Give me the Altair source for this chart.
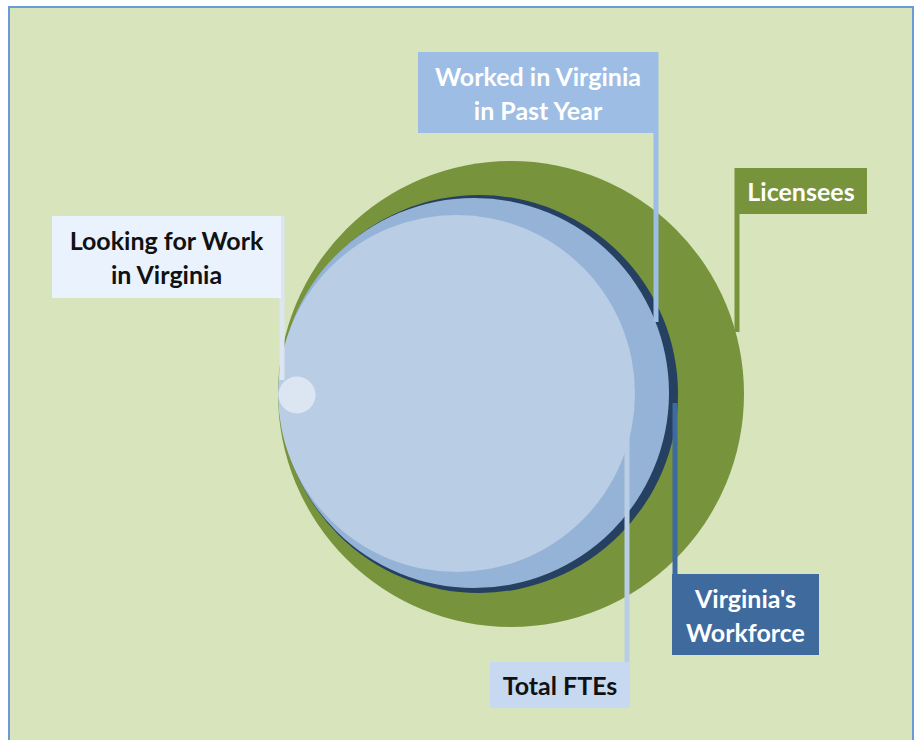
import altair as alt
import pandas as pd

W, H = 916, 740

# Nested circles (pixel-space layout of the diagram)
circle_names = ["Licensees", "Virginia's Workforce", "Worked in Virginia in Past Year", "Total FTEs", "Looking for Work in Virginia"]
circle_cx = [511, 479, 474, 456.5, 297]
circle_cy = [394, 394, 393, 393.5, 395]
circle_r = [233, 199, 195, 178.5, 18.5]
circle_colors = ["#77933c", "#254061", "#95b3d7", "#b9cde5", "#dce6f2"]

# Label boxes
label_names = ["Worked in Virginia in Past Year", "Licensees", "Looking for Work in Virginia", "Total FTEs", "Virginia's Workforce"]
label_lines = [["Worked in Virginia", "in Past Year"], ["Licensees"], ["Looking for Work", "in Virginia"], ["Total FTEs"], ["Virginia's", "Workforce"]]
box_x1 = [418, 735, 52, 490, 672]
box_x2 = [658, 867, 281, 630, 819]
box_y1 = [52, 168, 216, 662, 574]
box_y2 = [133, 214, 298, 708, 655]
box_colors = ["#9dbde4", "#77933c", "#eaf3fd", "#c6d9f1", "#3e6a9e"]
text_colors = ["#ffffff", "#ffffff", "#111111", "#111111", "#ffffff"]
leader_x = [656, 737, 282, 627, 675]
leader_y1 = [52, 168, 216, 433, 403]
leader_y2 = [322, 332, 380, 708, 574]
leader_colors = ["#9dbde4", "#77933c", "#dce6f2", "#b9cde5", "#3e6a9e"]

LINE_H = 34

xs = alt.Scale(domain=[0, W], range=[0, W])
ys = alt.Scale(domain=[0, H], range=[0, H])

def X(f, **k):
    return alt.X(f, type="quantitative", scale=xs, axis=None, **k)

def Y(f, **k):
    return alt.Y(f, type="quantitative", scale=ys, axis=None, **k)

frame = pd.DataFrame({"x1": [9], "x2": [913], "y1": [7], "y2": [745]})
frame_layer = alt.Chart(frame).mark_rect(fill="#d8e4bc", stroke="#6b9bd6", strokeWidth=2).encode(
    x=X("x1"), x2="x2", y=Y("y1"), y2="y2")

circ = pd.DataFrame({
    "name": circle_names, "cx": circle_cx, "cy": circle_cy,
    "size": [4 * r * r for r in circle_r], "color": circle_colors,
    "order": list(range(len(circle_names))),
})
circle_layer = alt.Chart(circ).mark_circle(opacity=1).encode(
    x=X("cx"), y=Y("cy"),
    size=alt.Size("size:Q", scale=None, legend=None),
    color=alt.Color("color:N", scale=None, legend=None),
    order=alt.Order("order:Q"),
)

lead = pd.DataFrame({"x": leader_x, "y1": leader_y1, "y2": leader_y2, "color": leader_colors})
leader_layer = alt.Chart(lead).mark_rule(strokeWidth=5).encode(
    x=X("x"), y=Y("y1"), y2="y2",
    color=alt.Color("color:N", scale=None, legend=None))

boxes = pd.DataFrame({"name": label_names, "x1": box_x1, "x2": box_x2, "y1": box_y1, "y2": box_y2,
                      "color": box_colors})
box_layer = alt.Chart(boxes).mark_rect().encode(
    x=X("x1"), x2="x2", y=Y("y1"), y2="y2",
    color=alt.Color("color:N", scale=None, legend=None))

texts = pd.DataFrame({
    "lines": label_lines,
    "cx": [(a + b) / 2 for a, b in zip(box_x1, box_x2)],
    "cy": [(a + b) / 2 - (len(l) - 1) * LINE_H / 2 for a, b, l in zip(box_y1, box_y2, label_lines)],
    "tcolor": text_colors,
})
text_layer = alt.Chart(texts).mark_text(
    font="Lato", fontWeight="bold", fontSize=25, lineHeight=LINE_H, align="center", baseline="middle", dy=2
).encode(
    x=X("cx"), y=Y("cy"), text="lines",
    color=alt.Color("tcolor:N", scale=None, legend=None))

chart = alt.layer(frame_layer, circle_layer, leader_layer, box_layer, text_layer).properties(
    width=W, height=H, padding=0, autosize=alt.AutoSizeParams(type="none"),
    background="#ffffff",
).configure_view(stroke=None)

chart.save("out.html", embed_options={"renderer": "svg", "actions": False})
